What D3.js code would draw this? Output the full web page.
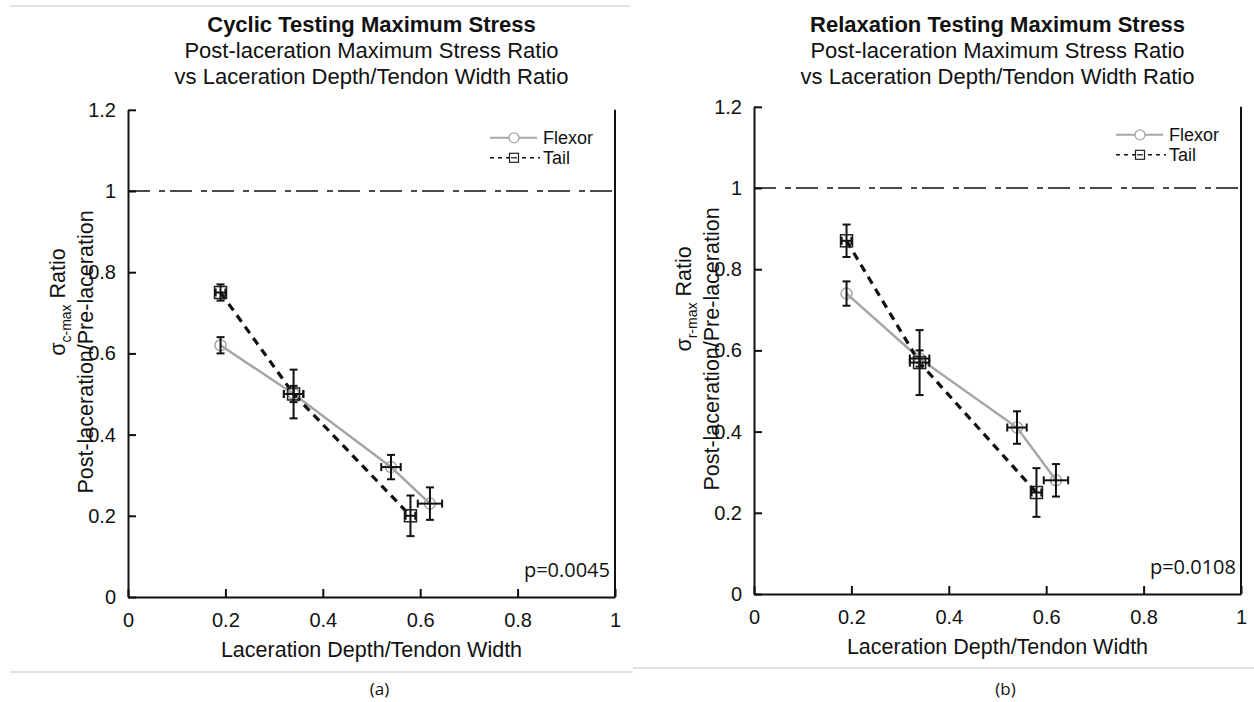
<!DOCTYPE html>
<html>
<head>
<meta charset="utf-8">
<script src="https://cdn.jsdelivr.net/npm/d3@7"></script>
<style>
  html, body { margin: 0; padding: 0; background: #ffffff; }
  svg { display: block; }
  text { font-family: "Liberation Sans", Arial, sans-serif; fill: #111; }
</style>
</head>
<body>
<svg id="fig" width="1254" height="702"></svg>
<script>
// Tick values and labels shared by both panels
const xTickValues = [0, 0.2, 0.4, 0.6, 0.8, 1];
const xTickLabels = ["0", "0.2", "0.4", "0.6", "0.8", "1"];
const yTickValues = [0, 0.2, 0.4, 0.6, 0.8, 1, 1.2];
const yTickLabels = ["0", "0.2", "0.4", "0.6", "0.8", "1", "1.2"];

// Laceration depth / tendon width (x) with horizontal error
const flexorDepth = [0.19, 0.34, 0.54, 0.62];
const flexorDepthErr = [0, 0.02, 0.02, 0.025];
const tailDepth = [0.19, 0.34, 0.58];
const tailDepthErr = [0.01, 0.02, 0.01];

// Cyclic testing: post/pre maximum stress ratio
const cyclicFlexor = [0.62, 0.50, 0.32, 0.23];
const cyclicFlexorErr = [0.02, 0.02, 0.03, 0.04];
const cyclicTail = [0.75, 0.50, 0.20];
const cyclicTailErr = [0.02, 0.06, 0.05];

// Relaxation testing: post/pre maximum stress ratio
const relaxFlexor = [0.74, 0.58, 0.41, 0.28];
const relaxFlexorErr = [0.03, 0.02, 0.04, 0.04];
const relaxTail = [0.87, 0.57, 0.25];
const relaxTailErr = [0.04, 0.08, 0.06];

const referenceRatio = 1;
const legendNames = ["Flexor", "Tail"];

const panels = [
  {
    x0: 128, x1: 615, y0: 597, unit: 406,
    title: "Cyclic Testing Maximum Stress",
    sub: "c-max",
    pText: "p=0.0045",
    tag: "(a)",
    flexor: cyclicFlexor, flexorErr: cyclicFlexorErr,
    tail: cyclicTail, tailErr: cyclicTailErr
  },
  {
    x0: 754, x1: 1241, y0: 594, unit: 406,
    title: "Relaxation Testing Maximum Stress",
    sub: "r-max",
    pText: "p=0.0108",
    tag: "(b)",
    flexor: relaxFlexor, flexorErr: relaxFlexorErr,
    tail: relaxTail, tailErr: relaxTailErr
  }
];

const svg = d3.select("#fig");
const GRAY = "#a6a6a6";
const INK = "#111111";

// page rules framing the two sub-figures
svg.append("line").attr("x1", 10).attr("x2", 630).attr("y1", 6).attr("y2", 6)
  .attr("stroke", "#c8c8c8").attr("stroke-width", 1.2);
svg.append("line").attr("x1", 10).attr("x2", 633).attr("y1", 672).attr("y2", 672)
  .attr("stroke", "#c8c8c8").attr("stroke-width", 1.2);
svg.append("line").attr("x1", 633).attr("x2", 1254).attr("y1", 668).attr("y2", 668)
  .attr("stroke", "#c8c8c8").attr("stroke-width", 1.2);

panels.forEach(p => {
  const x = d3.scaleLinear().domain([0, 1]).range([p.x0, p.x1]);
  const yTop = p.y0 - 1.2 * p.unit;
  const y = d3.scaleLinear().domain([0, 1.2]).range([p.y0, yTop]);
  const g = svg.append("g");
  const cx = (p.x0 + p.x1) / 2;

  // three-line title, first line bold
  g.append("text").attr("x", cx).attr("y", 32).attr("text-anchor", "middle")
    .style("font-size", "22px").style("font-weight", "bold").text(p.title);
  g.append("text").attr("x", cx).attr("y", 58).attr("text-anchor", "middle")
    .style("font-size", "22px").text("Post-laceration Maximum Stress Ratio");
  g.append("text").attr("x", cx).attr("y", 84).attr("text-anchor", "middle")
    .style("font-size", "22px").text("vs Laceration Depth/Tendon Width Ratio");

  // axes with inward ticks
  const xAxis = d3.axisBottom(x).tickValues(xTickValues)
    .tickFormat((d, i) => xTickLabels[i]).tickSizeInner(-8).tickSizeOuter(0).tickPadding(16);
  const yAxis = d3.axisLeft(y).tickValues(yTickValues)
    .tickFormat((d, i) => yTickLabels[i]).tickSizeInner(-8).tickSizeOuter(0).tickPadding(12);

  const gx = g.append("g").attr("transform", `translate(0,${p.y0})`).call(xAxis);
  const gy = g.append("g").attr("transform", `translate(${p.x0},0)`).call(yAxis);
  [gx, gy].forEach(a => {
    a.selectAll("path, line").attr("stroke", INK).attr("stroke-width", 2);
    a.selectAll("text").style("font-size", "20px").style("font-family", "'Liberation Sans', Arial, sans-serif").attr("fill", INK);
  });
  // right frame edge
  g.append("line").attr("x1", x(1)).attr("x2", x(1)).attr("y1", y(1.2)).attr("y2", y(0))
    .attr("stroke", INK).attr("stroke-width", 2);

  // axis titles
  g.append("text").attr("x", cx).attr("y", p.y0 + 60).attr("text-anchor", "middle")
    .style("font-size", "21.5px").text("Laceration Depth/Tendon Width");
  const yl1 = g.append("text").attr("transform", `translate(${p.x0 - 63},${p.y0 - 295}) rotate(-90)`)
    .attr("text-anchor", "middle").style("font-size", "21.5px");
  yl1.append("tspan").text("\u03C3");
  yl1.append("tspan").attr("dy", 6).style("font-size", "14px").text(p.sub);
  yl1.append("tspan").attr("dy", -6).text(" Ratio");
  g.append("text").attr("transform", `translate(${p.x0 - 35},${p.y0 - 245}) rotate(-90)`)
    .attr("text-anchor", "middle").style("font-size", "21.5px").text("Post-laceration/Pre-laceration");

  // reference ratio of one
  g.append("line").attr("x1", x(0)).attr("x2", x(1))
    .attr("y1", y(referenceRatio)).attr("y2", y(referenceRatio))
    .attr("stroke", INK).attr("stroke-width", 1.5).attr("stroke-dasharray", "22,9,6,5");

  const flexPts = flexorDepth.map((d, i) => ({ x: d, xe: flexorDepthErr[i], y: p.flexor[i], ye: p.flexorErr[i] }));
  const tailPts = tailDepth.map((d, i) => ({ x: d, xe: tailDepthErr[i], y: p.tail[i], ye: p.tailErr[i] }));
  const line = d3.line().x(d => x(d.x)).y(d => y(d.y));

  g.append("path").attr("d", line(flexPts)).attr("fill", "none")
    .attr("stroke", GRAY).attr("stroke-width", 2.5);
  g.append("path").attr("d", line(tailPts)).attr("fill", "none")
    .attr("stroke", INK).attr("stroke-width", 3.2).attr("stroke-dasharray", "8,6");

  // markers
  g.selectAll(".fm").data(flexPts).join("circle")
    .attr("cx", d => x(d.x)).attr("cy", d => y(d.y)).attr("r", 5.5)
    .attr("fill", "none").attr("stroke", GRAY).attr("stroke-width", 1.5);
  g.selectAll(".tm").data(tailPts).join("rect")
    .attr("x", d => x(d.x) - 6).attr("y", d => y(d.y) - 6).attr("width", 12).attr("height", 12)
    .attr("fill", "none").attr("stroke", "#222").attr("stroke-width", 1.5);

  // error bars with caps
  const cap = 4;
  const bars = g.append("g").attr("stroke", INK).attr("stroke-width", 2);
  [...flexPts, ...tailPts].forEach(d => {
    const px = x(d.x), py = y(d.y);
    if (d.ye > 0) {
      bars.append("line").attr("x1", px).attr("x2", px).attr("y1", y(d.y - d.ye)).attr("y2", y(d.y + d.ye));
      bars.append("line").attr("x1", px - cap).attr("x2", px + cap).attr("y1", y(d.y - d.ye)).attr("y2", y(d.y - d.ye));
      bars.append("line").attr("x1", px - cap).attr("x2", px + cap).attr("y1", y(d.y + d.ye)).attr("y2", y(d.y + d.ye));
    }
    if (d.xe > 0) {
      bars.append("line").attr("x1", x(d.x - d.xe)).attr("x2", x(d.x + d.xe)).attr("y1", py).attr("y2", py);
      bars.append("line").attr("x1", x(d.x - d.xe)).attr("x2", x(d.x - d.xe)).attr("y1", py - cap).attr("y2", py + cap);
      bars.append("line").attr("x1", x(d.x + d.xe)).attr("x2", x(d.x + d.xe)).attr("y1", py - cap).attr("y2", py + cap);
    }
  });

  // legend
  const lx = x(1) - 125, ly = y(1.2) + 28;
  g.append("line").attr("x1", lx).attr("x2", lx + 47).attr("y1", ly).attr("y2", ly)
    .attr("stroke", GRAY).attr("stroke-width", 2);
  g.append("circle").attr("cx", lx + 24).attr("cy", ly).attr("r", 5)
    .attr("fill", "#fff").attr("stroke", GRAY).attr("stroke-width", 1.3);
  g.append("text").attr("x", lx + 53).attr("y", ly + 6).style("font-size", "18px").text(legendNames[0]);
  const ly2 = ly + 20;
  g.append("line").attr("x1", lx).attr("x2", lx + 50).attr("y1", ly2).attr("y2", ly2)
    .attr("stroke", INK).attr("stroke-width", 1.5).attr("stroke-dasharray", "4,4");
  g.append("rect").attr("x", lx + 19.5).attr("y", ly2 - 4.5).attr("width", 9).attr("height", 9)
    .attr("fill", "#fff").attr("stroke", "#222").attr("stroke-width", 1.2);
  g.append("line").attr("x1", lx + 21).attr("x2", lx + 27).attr("y1", ly2).attr("y2", ly2)
    .attr("stroke", INK).attr("stroke-width", 1.2);
  g.append("text").attr("x", lx + 53).attr("y", ly2 + 6).style("font-size", "18px").text(legendNames[1]);

  // significance
  g.append("text").attr("x", x(1) - 5).attr("y", p.y0 - 20).attr("text-anchor", "end")
    .style("font-family", "'Open Sans', sans-serif").style("font-size", "20px").text(p.pText);

  // sub-figure tag
  g.append("text").attr("x", cx + 8).attr("y", 695).attr("text-anchor", "middle")
    .style("font-family", "'Open Sans', sans-serif").style("font-size", "17px").text(p.tag);
});
</script>
</body>
</html>
